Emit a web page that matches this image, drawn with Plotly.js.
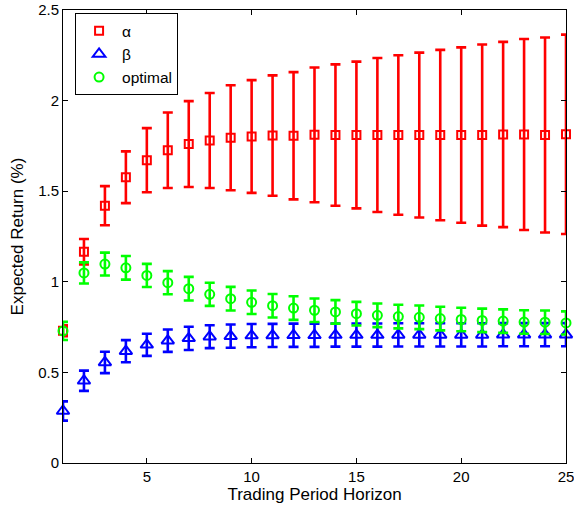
<!DOCTYPE html>
<html>
<head>
<meta charset="utf-8">
<script src="https://cdn.plot.ly/plotly-3.0.1.min.js"></script>
<style>html,body{margin:0;padding:0;background:#fff;}#chart{width:574px;height:510px;}</style>
</head>
<body>
<div id="chart"></div>
<script>
const horizon = [1,2,3,4,5,6,7,8,9,10,11,12,13,14,15,16,17,18,19,20,21,22,23,24,25];

const alphaMean = [0.73,1.166,1.42,1.577,1.671,1.726,1.76,1.78,1.795,1.802,1.807,1.806,1.811,1.81,1.81,1.81,1.81,1.81,1.81,1.81,1.81,1.813,1.813,1.81,1.814];
const alphaErr  = [0.03,0.07,0.108,0.143,0.177,0.208,0.237,0.262,0.29,0.311,0.332,0.351,0.372,0.39,0.405,0.425,0.44,0.455,0.47,0.484,0.5,0.511,0.527,0.538,0.55];

const betaMean = [0.287,0.454,0.555,0.617,0.652,0.675,0.688,0.697,0.70,0.703,0.704,0.705,0.705,0.706,0.706,0.706,0.707,0.707,0.707,0.707,0.707,0.708,0.708,0.708,0.708];
const betaErr  = [0.053,0.056,0.059,0.061,0.061,0.062,0.064,0.063,0.064,0.064,0.064,0.064,0.064,0.064,0.064,0.064,0.064,0.064,0.064,0.064,0.064,0.064,0.064,0.064,0.064];

const optMean = [0.729,1.049,1.098,1.077,1.035,0.995,0.962,0.931,0.907,0.887,0.868,0.855,0.843,0.834,0.824,0.815,0.808,0.804,0.797,0.792,0.787,0.783,0.778,0.777,0.773];
const optErr  = [0.05,0.058,0.063,0.065,0.064,0.064,0.065,0.064,0.065,0.065,0.065,0.065,0.065,0.065,0.065,0.065,0.065,0.065,0.065,0.065,0.065,0.065,0.065,0.065,0.064];

const seriesNames = ['α','β','optimal'];
const xTicks = [5,10,15,20,25];
const yTicks = [0,0.5,1,1.5,2,2.5];
const yTickText = ['0','0.5','1','1.5','2','2.5'];

function trace(name, y, err, color, symbol, size) {
  return {
    x: horizon, y: y, name: name, type: 'scatter', mode: 'markers', cliponaxis: false,
    marker: {symbol: symbol, size: size, color: color, line: {color: color, width: 2}},
    error_y: {type: 'data', array: err, visible: true, color: color, thickness: 2.6, width: 5}
  };
}

const data = [
  trace(seriesNames[0], alphaMean, alphaErr, '#ff0000', 'square-open', 8),
  trace(seriesNames[1], betaMean, betaErr, '#0000ff', 'triangle-up-open', 11),
  trace(seriesNames[2], optMean, optErr, '#00ff00', 'circle-open', 9)
];

const fam = 'Liberation Sans, Arial, sans-serif';
const font = {family: fam, size: 15, color: '#000'};

const layout = {
  width: 574, height: 510,
  margin: {l: 63, r: 8, t: 10, b: 47},
  paper_bgcolor: '#fff', plot_bgcolor: '#fff',
  font: font,
  showlegend: true,
  legend: {
    x: 0.024, y: 0.993, xanchor: 'left', yanchor: 'top',
    bordercolor: '#000', borderwidth: 1, bgcolor: '#fff',
    font: {family: fam, size: 15.5, color: '#000'},
    itemwidth: 36
  },
  xaxis: {
    range: [1, 25], tickvals: xTicks, ticks: 'inside', ticklen: 5, tickcolor: '#000',
    showline: true, linecolor: '#000', linewidth: 1, mirror: 'ticks',
    showgrid: false, zeroline: false, ticklabeloverflow: 'allow',
    tickfont: font,
    title: {text: 'Trading Period Horizon', font: {family: fam, size: 17, color: '#000'}, standoff: 3}
  },
  yaxis: {
    range: [0, 2.5], tickvals: yTicks, ticktext: yTickText, ticks: 'inside', ticklen: 5, tickcolor: '#000',
    showline: true, linecolor: '#000', linewidth: 1, mirror: 'ticks',
    showgrid: false, zeroline: false, ticklabeloverflow: 'allow',
    tickfont: font,
    title: {text: 'Expected Return (%)', font: {family: fam, size: 17, color: '#000'}, standoff: 10}
  }
};

Plotly.newPlot('chart', data, layout, {displayModeBar: false, staticPlot: true});
</script>
</body>
</html>
